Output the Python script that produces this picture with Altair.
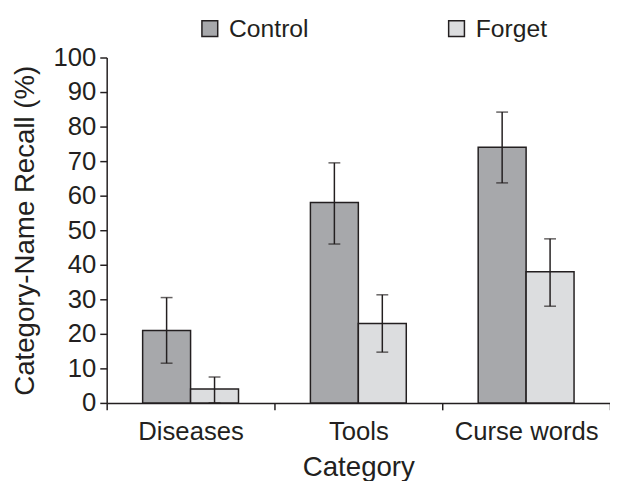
import altair as alt
import pandas as pd

categories = ["Diseases", "Tools", "Curse words"]
groups = ["Control", "Forget"]
control_mean = [21, 58, 74]
control_low = [11.5, 46, 63.7]
control_high = [30.5, 69.5, 84.2]
forget_mean = [4, 23, 38]
forget_low = [0, 14.7, 28]
forget_high = [7.5, 31.3, 47.5]
y_ticks = [0, 10, 20, 30, 40, 50, 60, 70, 80, 90, 100]

rows = []
for i, c in enumerate(categories):
    rows.append(dict(cat=c, grp="Control", mean=control_mean[i], lo=control_low[i], hi=control_high[i]))
    rows.append(dict(cat=c, grp="Forget", mean=forget_mean[i], lo=forget_low[i], hi=forget_high[i]))
df = pd.DataFrame(rows)

FONT = "Liberation Sans"
DARK = "#231f20"

x = alt.X("cat:N", sort=categories, title="Category",
          scale=alt.Scale(paddingInner=0, paddingOuter=0),
          axis=alt.Axis(labelAngle=0, labelFontSize=26, titleFontSize=28, labelFont=FONT, titleFont=FONT,
                        labelColor=DARK, titleColor=DARK, tickBand="extent", tickSize=7, tickColor=DARK,
                        domainColor=DARK, tickWidth=1.5, domainWidth=1.5, labelPadding=9, titlePadding=10,
                        titleFontWeight="normal", labelOverlap=False))
xo = alt.XOffset("grp:N", sort=groups, scale=alt.Scale(paddingOuter=0.75, paddingInner=0))

y_axis = alt.Axis(values=y_ticks, labelFontSize=26, titleFontSize=28,
                  labelFont=FONT, titleFont=FONT, labelColor=DARK, titleColor=DARK,
                  tickSize=7, tickColor=DARK, domainColor=DARK, tickWidth=1.5, domainWidth=1.5,
                  grid=False, labelPadding=4, titlePadding=14, titleFontWeight="normal",
                  labelOverlap=False)
y_scale = alt.Scale(domain=[0, 100], nice=False)
Y_TITLE = "Category-Name Recall (%)"

base = alt.Chart(df).encode(x=x, xOffset=xo)

bars = base.mark_bar(stroke=DARK, strokeWidth=1.5).encode(
    y=alt.Y("mean:Q", title=Y_TITLE, scale=y_scale, axis=y_axis),
    color=alt.Color("grp:N", sort=groups, title=None,
                    scale=alt.Scale(domain=groups, range=["#a7a8ab", "#dcdddf"]),
                    legend=alt.Legend(orient="none", legendX=92, legendY=-42, direction="horizontal",
                                      symbolType="square", symbolSize=256, symbolStrokeColor=DARK,
                                      symbolStrokeWidth=1.5, labelFontSize=25, labelFont=FONT,
                                      labelColor=DARK, columnPadding=137, labelOffset=7,
                                      symbolOpacity=1)),
)

rules = base.mark_rule(color=DARK, strokeWidth=1.5).encode(
    y=alt.Y("lo:Q", title=Y_TITLE, scale=y_scale, axis=y_axis), y2="hi:Q")
cap_lo = base.mark_tick(color=DARK, thickness=1.5, size=12, orient="horizontal").encode(
    y=alt.Y("lo:Q", title=Y_TITLE, scale=y_scale, axis=y_axis))
cap_hi = base.mark_tick(color=DARK, thickness=1.5, size=12, orient="horizontal").encode(
    y=alt.Y("hi:Q", title=Y_TITLE, scale=y_scale, axis=y_axis))

chart = alt.layer(bars, rules, cap_lo, cap_hi).properties(
    width=510, height=350,
    autosize=alt.AutoSizeParams(type="none"),
    padding={"left": 100, "top": 47, "right": 0, "bottom": 80},
).configure_view(stroke=None)

chart.save("out.html", embed_options={"renderer": "svg", "actions": False})
